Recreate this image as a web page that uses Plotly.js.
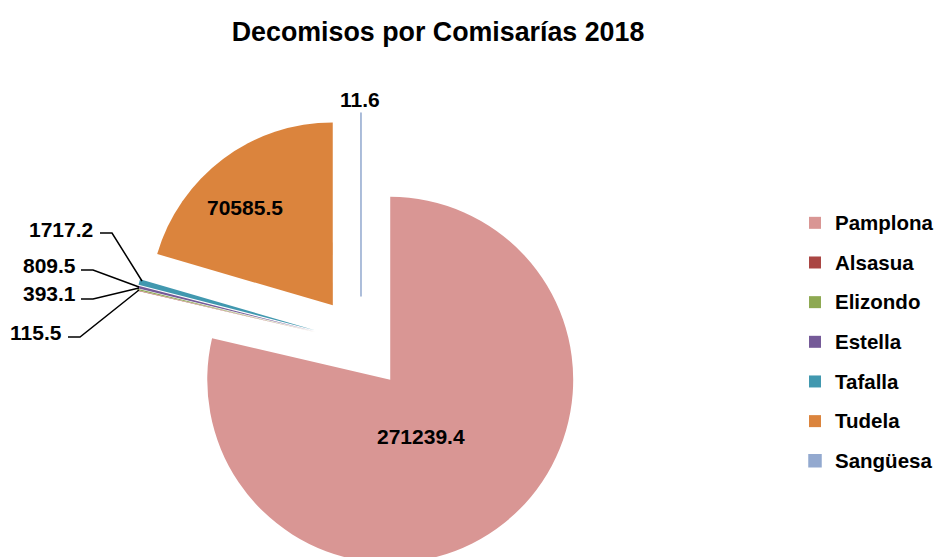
<!DOCTYPE html>
<html>
<head>
<meta charset="utf-8">
<script src="https://cdn.plot.ly/plotly-3.0.1.min.js"></script>
<style>
html, body { margin: 0; padding: 0; overflow: hidden; background: #fff; }
#chart { width: 936px; height: 620px; }
</style>
</head>
<body>
<div id="chart"></div>
<script>
// ---- data ----
const categories = ['Pamplona', 'Alsasua', 'Elizondo', 'Estella', 'Tafalla', 'Tudela', 'Sangüesa'];
const values = [271239.4, 115.5, 393.1, 809.5, 1717.2, 70585.5, 11.6];
const sliceColors = ['#D99694', '#AA4643', '#8EA952', '#755A98', '#4198AF', '#DB843D', '#93A9CF'];
const chartTitle = 'Decomisos por Comisarías 2018';

// ---- layout constants ----
const W = 936, H = 620;
const FONT = '"Liberation Sans", Arial, Helvetica, sans-serif';
const px = x => x / W;
const py = y => 1 - y / H;

// legend labels: padded with empty lines so items are spaced like the original
const legendLabels = categories.map(c =>
  ' <br> <br><span style="font-size:20.5px">' + c + '</span><br> ');

const lineW = [0, 0, 0, 0, 0, 0, 1.5];

const trace = {
  type: 'pie',
  labels: legendLabels,
  values: values,
  sort: false,
  direction: 'clockwise',
  rotation: 0,
  pull: 0.257,
  marker: { colors: sliceColors, line: { color: sliceColors, width: lineW } },
  textposition: 'none',
  domain: { x: [px(131), px(591)], y: [py(573), py(113)] },
  hoverinfo: 'label+value',
  showlegend: true
};

const labelFont = { family: FONT, size: 21, color: '#000', weight: 'bold' };

// data labels: index, anchor, position (px), optional leader path points
const dataLabels = [
  { i: 0, x: 421, y: 436, anchor: 'center' },
  { i: 5, x: 245, y: 208, anchor: 'center' },
  { i: 6, x: 360, y: 99, anchor: 'center' },
  { i: 4, x: 95, y: 229, anchor: 'right', pts: [[100, 233], [112, 233], [142, 281]] },
  { i: 3, x: 78, y: 265, anchor: 'right', pts: [[81, 270], [93, 270], [139, 287]] },
  { i: 2, x: 78, y: 294, anchor: 'right', pts: [[81, 299], [93, 299], [139, 288]] },
  { i: 1, x: 64, y: 332, anchor: 'right', pts: [[68, 337], [80, 337], [139, 290]] }
];

const annotations = dataLabels.map(s => ({
  xref: 'paper', yref: 'paper', x: px(s.x), y: py(s.y),
  xanchor: s.anchor, yanchor: 'middle', showarrow: false,
  text: values[s.i].toFixed(1),
  font: labelFont
}));

const shapes = dataLabels.filter(s => s.pts).map(s => ({
  type: 'path', xref: 'paper', yref: 'paper',
  path: s.pts.map((p, k) => (k ? 'L' : 'M') + px(p[0]) + ',' + py(p[1])).join(' '),
  line: { color: '#000', width: 1.5 }
}));

const layout = {
  width: W, height: H,
  margin: { l: 0, r: 0, t: 0, b: 0, autoexpand: false },
  paper_bgcolor: '#fff',
  font: { family: FONT, color: '#000' },
  title: {
    text: '<b>' + chartTitle + '</b>',
    font: { family: FONT, size: 26.8, color: '#000' },
    xref: 'container', yref: 'container',
    x: 0.468, xanchor: 'center', y: py(32), yanchor: 'middle'
  },
  legend: {
    x: px(795), xanchor: 'left', y: py(198), yanchor: 'top',
    font: { family: FONT, size: 7.05, color: '#000', weight: 'bold' },
    bgcolor: 'rgba(0,0,0,0)', tracegroupgap: 0
  },
  annotations: annotations,
  shapes: shapes
};

Plotly.newPlot('chart', [trace], layout, { displayModeBar: false, staticPlot: true });
</script>
</body>
</html>
